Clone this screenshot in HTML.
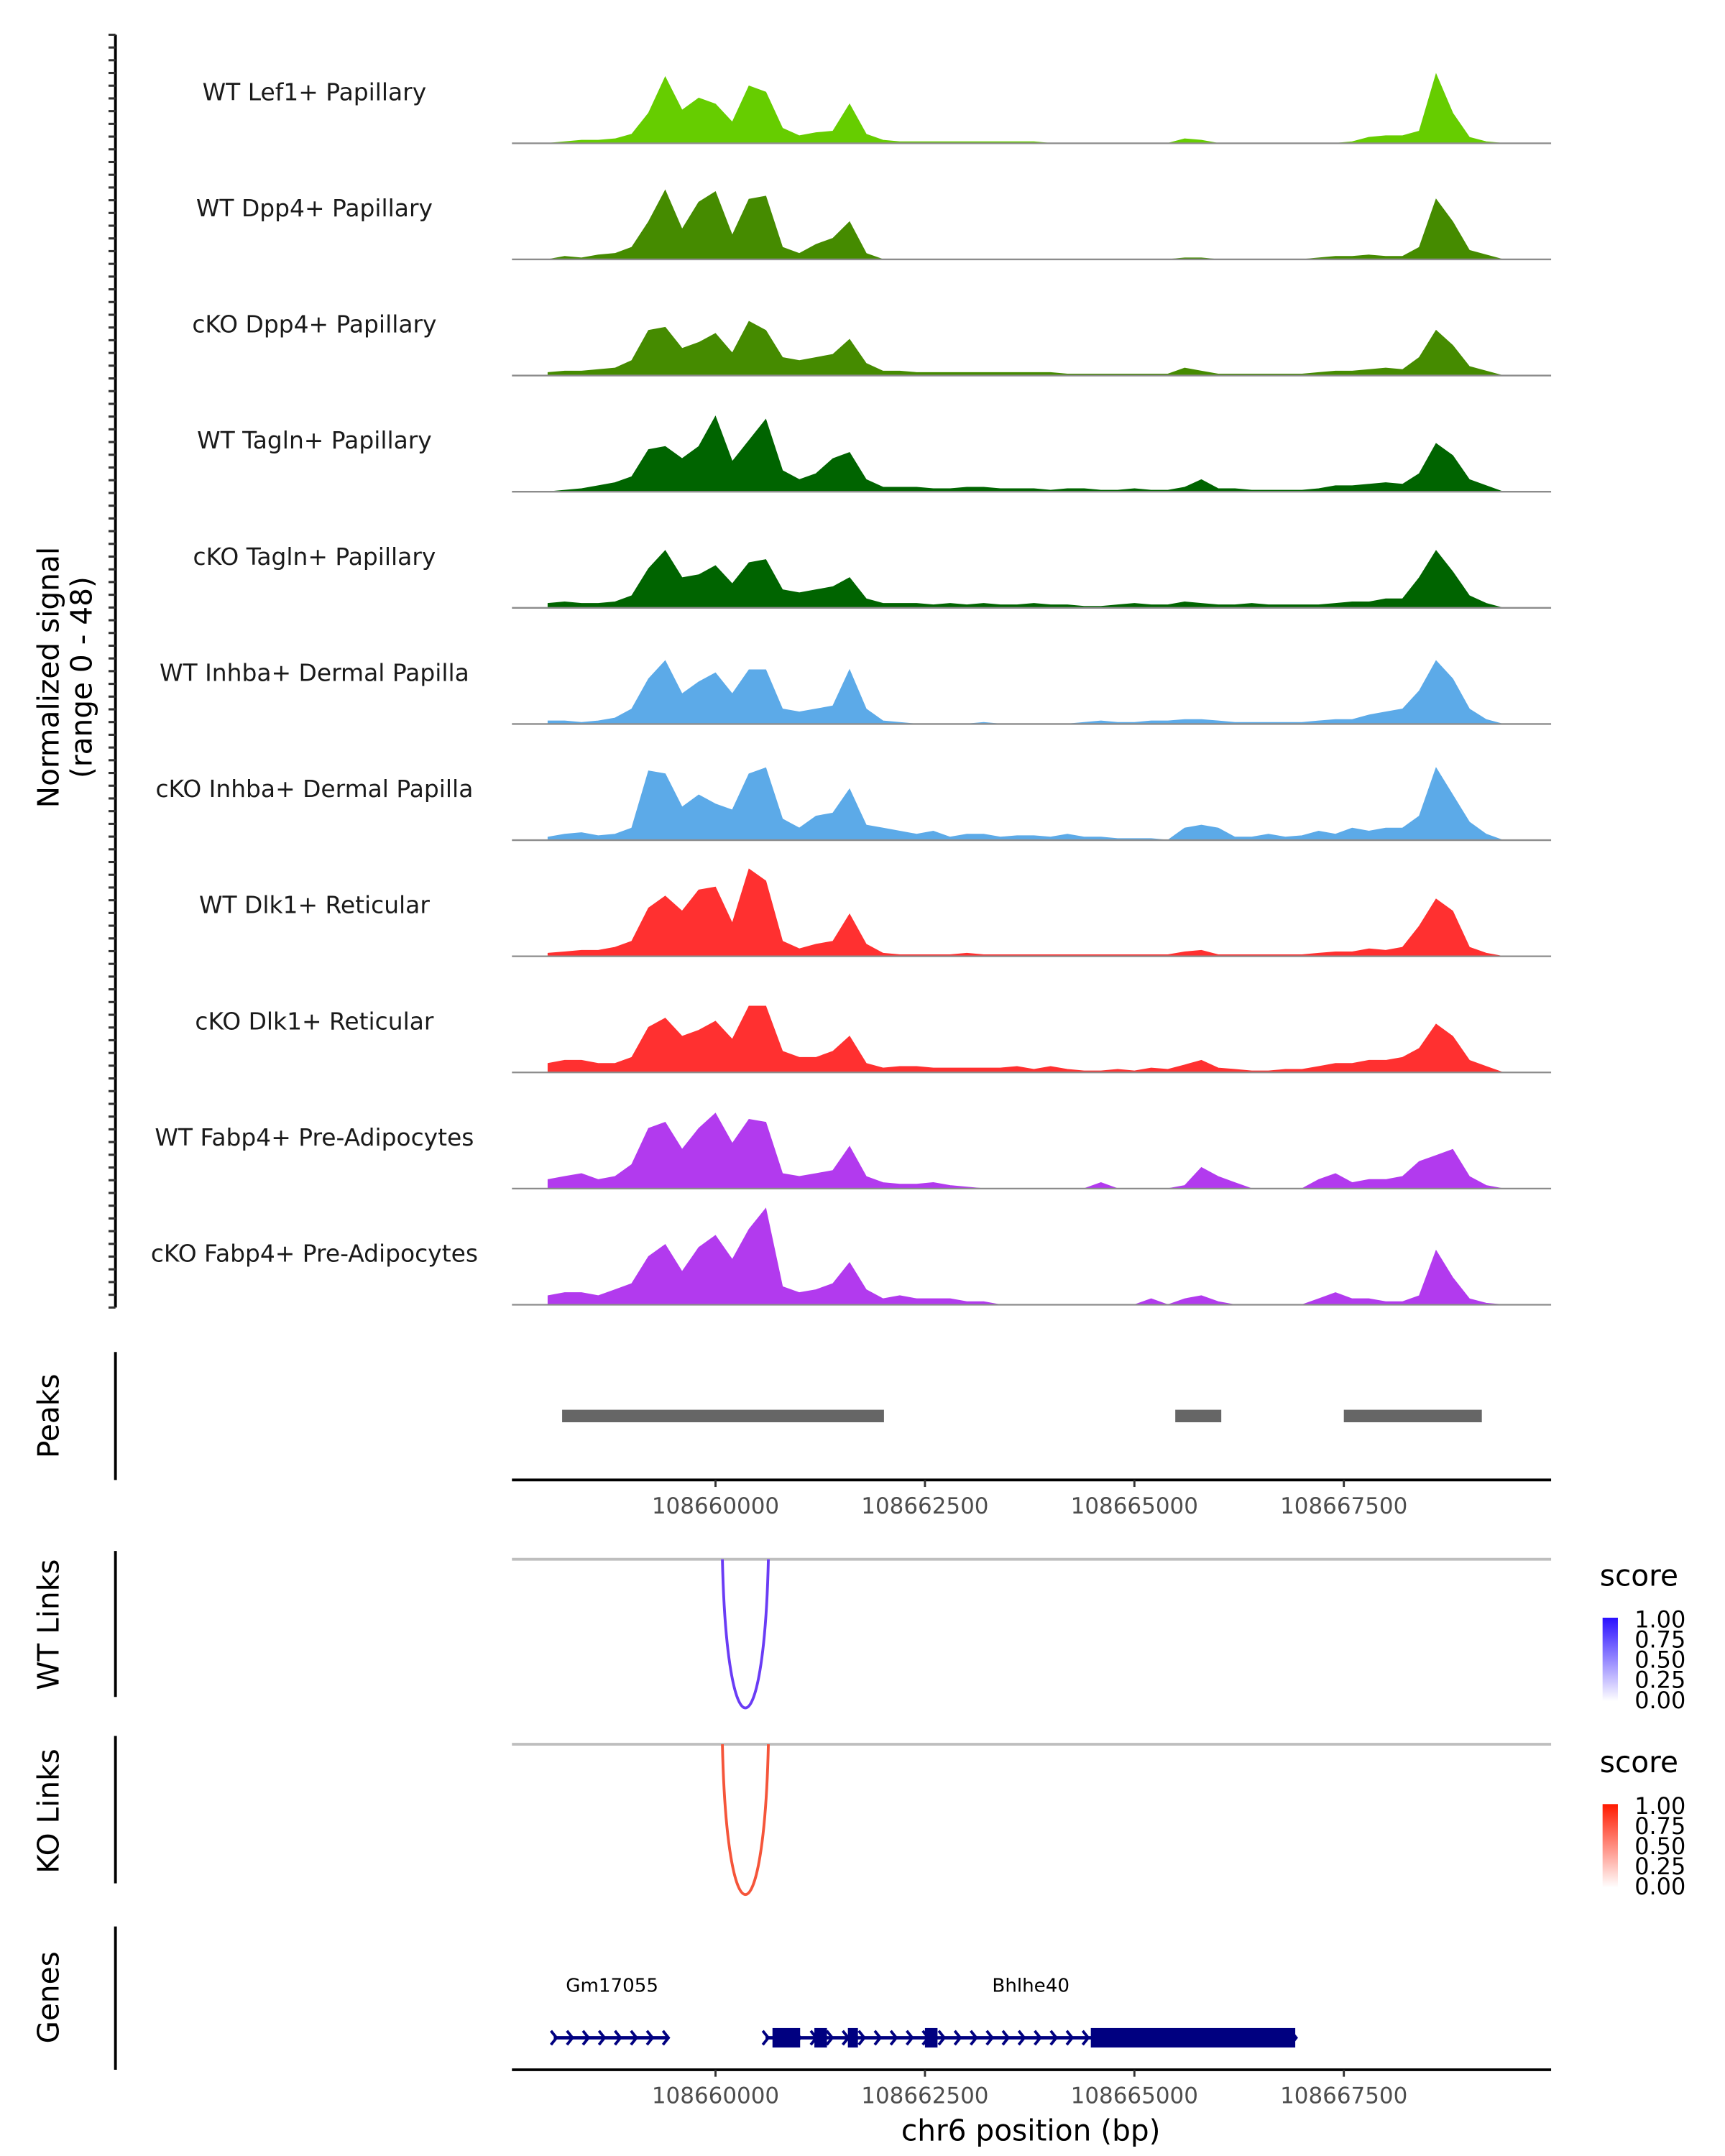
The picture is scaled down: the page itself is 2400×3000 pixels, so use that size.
<!DOCTYPE html>
<html><head><meta charset="utf-8"><style>
html,body{margin:0;padding:0;background:#fff;}
svg{display:block;font-family:"DejaVu Sans","Liberation Sans",sans-serif;}
</style></head><body>
<svg id="chart" xmlns="http://www.w3.org/2000/svg" width="2400" height="3000" viewBox="0 0 1240 1550">
<defs>
<linearGradient id="gWT" x1="0" y1="1" x2="0" y2="0"><stop offset="0" stop-color="#ffffff"/><stop offset="1" stop-color="#2a10ff"/></linearGradient>
<linearGradient id="gKO" x1="0" y1="1" x2="0" y2="0"><stop offset="0" stop-color="#ffffff"/><stop offset="1" stop-color="#ff1a00"/></linearGradient>
</defs>
<g id="root"></g>
</svg>
<script>
// ---- data ----
const regionStart = 108657570;
const regionEnd = 108669974;
const binStart = 108658000;
const binStep = 200;
const trackNames = ["WT Lef1+ Papillary","WT Dpp4+ Papillary","cKO Dpp4+ Papillary","WT Tagln+ Papillary","cKO Tagln+ Papillary","WT Inhba+ Dermal Papilla","cKO Inhba+ Dermal Papilla","WT Dlk1+ Reticular","cKO Dlk1+ Reticular","WT Fabp4+ Pre-Adipocytes","cKO Fabp4+ Pre-Adipocytes"];
const trackColors = ["#66cd00","#458b00","#458b00","#006400","#006400","#5caae8","#5caae8","#ff3030","#ff3030","#b23aee","#b23aee"];
const sigLef1 = [0,1,2,2,3,6,20,44,22,30, 26,14,38,34,10,5,7,8,26,6, 2,1,1,1,1,1,1,1,1,1, 0,0,0,0,0,0,0,0,3,2, 0,0,0,0,0,0,0,0,1,4, 5,5,8,46,20,4,1,0];
const sigWTDpp4 = [0,2,1,3,4,8,25,46,20,38, 45,16,40,42,8,4,10,14,25,4, 0,0,0,0,0,0,0,0,0,0, 0,0,0,0,0,0,0,0,1,1, 0,0,0,0,0,0,1,2,2,3, 2,2,8,40,25,6,3,0];
const sigKODpp4 = [2,3,3,4,5,10,30,32,18,22, 28,15,36,30,12,10,12,14,24,8, 3,3,2,2,2,2,2,2,2,2, 2,1,1,1,1,1,1,1,5,3, 1,1,1,1,1,1,2,3,3,4, 5,4,12,30,20,6,3,0];
const sigWTTagln = [0,1,2,4,6,10,28,30,22,30, 50,20,34,48,14,8,12,22,26,8, 3,3,3,2,2,3,3,2,2,2, 1,2,2,1,1,2,1,1,3,8, 2,2,1,1,1,1,2,4,4,5, 6,5,12,32,24,8,4,0];
const sigKOTagln = [3,4,3,3,4,8,26,38,20,22, 28,16,30,32,12,10,12,14,20,6, 3,3,3,2,3,2,3,2,2,3, 2,2,1,1,2,3,2,2,4,3, 2,2,3,2,2,2,2,3,4,4, 6,6,20,38,24,8,3,0];
const sigWTInhba = [2,2,1,2,4,10,30,42,20,28, 34,20,36,36,10,8,10,12,36,10, 2,1,0,0,0,0,1,0,0,0, 0,0,1,2,1,1,2,2,3,3, 2,1,1,1,1,1,2,3,3,6, 8,10,22,42,30,10,3,0];
const sigKOInhba = [2,4,5,3,4,8,46,44,22,30, 24,20,44,48,14,8,16,18,34,10, 8,6,4,6,2,4,4,2,3,3, 2,4,2,2,1,1,1,0,8,10, 8,2,2,4,2,3,6,4,8,6, 8,8,16,48,30,12,4,0];
const sigWTDlk1 = [2,3,4,4,6,10,32,40,30,44, 46,22,58,50,10,5,8,10,28,8, 2,1,1,1,1,2,1,1,1,1, 1,1,1,1,1,1,1,1,3,4, 1,1,1,1,1,1,2,3,3,5, 4,6,20,38,30,6,2,0];
const sigKODlk1 = [6,8,8,6,6,10,30,36,24,28, 34,22,44,44,14,10,10,14,24,6, 3,4,4,3,3,3,3,3,4,2, 4,2,1,1,2,1,3,2,5,8, 3,2,1,1,2,2,4,6,6,8, 8,10,16,32,24,8,4,0];
const sigWTFabp4 = [6,8,10,6,8,16,40,44,26,40, 50,30,46,44,10,8,10,12,28,8, 4,3,3,4,2,1,0,0,0,0, 0,0,0,4,0,0,0,0,2,14, 8,4,0,0,0,0,6,10,4,6, 6,8,18,22,26,8,2,0];
const sigKOFabp4 = [6,8,8,6,10,14,32,40,22,38, 46,30,50,64,12,8,10,14,28,10, 4,6,4,4,4,2,2,0,0,0, 0,0,0,0,0,0,4,0,4,6, 2,0,0,0,0,0,4,8,4,4, 2,2,6,36,18,4,1,0];
const signals = [sigLef1,sigWTDpp4,sigKODpp4,sigWTTagln,sigKOTagln,sigWTInhba,sigKOInhba,sigWTDlk1,sigKODlk1,sigWTFabp4,sigKOFabp4];
const peakStarts = [108658169,108665488,108667500];
const peakEnds = [108662011,108666037,108669147];
const xTicks = [108660000,108662500,108665000,108667500];
const wtLinkStart = [108660082]; const wtLinkEnd = [108660631]; const wtLinkScore = [0.8];
const koLinkStart = [108660082]; const koLinkEnd = [108660631]; const koLinkScore = [0.8];
const legendTicks = ["1.00","0.75","0.50","0.25","0.00"];
const geneNames = ["Gm17055","Bhlhe40"];
const geneStarts = [108658069,108660597];
const geneEnds = [108659433,108666935];
const exonStarts = [108660680,108661180,108661580,108662500,108664480];
const exonEnds = [108661010,108661330,108661700,108662650,108666920];

// ---- scales ----
const X0 = 368, X1 = 1115;
function xs(g){ return X0 + (g - regionStart) / (regionEnd - regionStart) * (X1 - X0); }
const trackTop = 25, trackStep = 83.5, yMax = 48, trackH = 52;
function ys(v, base){ return base - v / yMax * trackH; }

const NS = "http://www.w3.org/2000/svg";
const root = document.getElementById("root");
function mk(tag, attrs, parent){ const e = document.createElementNS(NS, tag); for (const k in attrs) e.setAttribute(k, attrs[k]); (parent||root).appendChild(e); return e; }
function txt(s, attrs, parent){ const e = mk("text", attrs, parent); e.textContent = s; return e; }

// left axis for coverage
let el = mk("line",{x1:83,y1:25,x2:83,y2:940,stroke:"#000","stroke-width":2});


for (let k=0; k<=100; k++){
  const y = 25 + k*9.15; if (y>941) break;
  const t = mk("line",{x1:78,y1:y,x2:83,y2:y,stroke:"#333","stroke-width":1.6});
  
  
}
el = txt("Normalized signal",{x:0,y:0,"font-size":21,"text-anchor":"middle",transform:"translate(42,487) rotate(-90)"});


el = txt("(range 0 - 48)",{x:0,y:0,"font-size":21,"text-anchor":"middle",transform:"translate(66,487) rotate(-90)"});



// tracks
for (let t=0; t<signals.length; t++){
  const base = 103 + t*trackStep;
  const arr = signals[t];
  let d = "M" + xs(binStart).toFixed(1) + "," + base;
  for (let i=0;i<arr.length;i++){ d += " L" + xs(binStart + i*binStep).toFixed(1) + "," + ys(arr[i], base).toFixed(1); }
  d += " L" + xs(binStart + (arr.length-1)*binStep).toFixed(1) + "," + base + " Z";
  const p = mk("path",{d:d,fill:trackColors[t],stroke:trackColors[t],"stroke-width":0.5,"stroke-linejoin":"miter"});
  
  
  const bl = mk("line",{x1:X0,y1:base,x2:X1,y2:base,stroke:"#8c8c8c","stroke-width":1.2});
  
  
  const lb = txt(trackNames[t],{x:226,y:base-31,"font-size":17,"text-anchor":"middle",fill:"#1a1a1a"});
  
  
}

// panel axis helper
function panel(name, y1, y2, title, ty){
  const l = mk("line",{x1:83,y1:y1,x2:83,y2:y2,stroke:"#000","stroke-width":2});
  
  
  const tt = txt(title,{x:0,y:0,"font-size":21,"text-anchor":"middle",transform:"translate(42,"+ty+") rotate(-90)"});
  
  
}
function xAxis(y, withTitle){
  const a = mk("line",{x1:X0,y1:y,x2:X1,y2:y,stroke:"#000","stroke-width":2});
  
  
  for (let i=0;i<xTicks.length;i++){
    const x = xs(xTicks[i]);
    const tk = mk("line",{x1:x,y1:y,x2:x,y2:y+5,stroke:"#333","stroke-width":1.5});
    
    
    const lab = txt(String(xTicks[i]),{x:x,y:y+24,"font-size":16,"text-anchor":"middle",fill:"#4d4d4d"});
    
    
  }
  if (withTitle){
    const tl = txt("chr6 position (bp)",{x:741,y:y+51,"font-size":21,"text-anchor":"middle"});
    
    
  }
}

// peaks
panel("peaks", 972, 1064, "Peaks", 1018);
for (let i=0;i<peakStarts.length;i++){
  const r = mk("rect",{x:xs(peakStarts[i]),y:1013.5,width:xs(peakEnds[i])-xs(peakStarts[i]),height:9,fill:"#666666"});
  
  
}
xAxis(1064,false);

// links
function links(name, top, bottom, starts, ends, scores, color, grad, title, ty, legY){
  panel(name, top-6, bottom+4, title, ty);
  const g = mk("line",{x1:X0,y1:top,x2:X1,y2:top,stroke:"#bebebe","stroke-width":2});
  
  
  for (let i=0;i<starts.length;i++){
    const a = xs(starts[i]), b = xs(ends[i]), depth = (bottom-top)*2*scores[i]/0.8;
    const p = mk("path",{d:"M"+a+","+top+" C"+(a+ (b-a)*0.1)+","+(top+depth*0.75)+" "+(b-(b-a)*0.1)+","+(top+depth*0.75)+" "+b+","+top,fill:"none",stroke:color,"stroke-width":2});
    
    
  }
  const st = txt("score",{x:1150,y:legY,"font-size":21});
  
  
  const cb = mk("rect",{x:1152,y:legY+23,width:11,height:60,fill:"url(#"+grad+")"});
  
  
  for (let i=0;i<legendTicks.length;i++){
    const yy = legY + 23 + i*14.5;
    const lt = txt(legendTicks[i],{x:1175,y:yy+7,"font-size":16.5});
    
    
  }
}
links("wt-links", 1121, 1216, wtLinkStart, wtLinkEnd, wtLinkScore, "#6a3cf5", "gWT", "WT Links", 1168, 1140);
links("ko-links", 1254, 1350, koLinkStart, koLinkEnd, koLinkScore, "#f5553a", "gKO", "KO Links", 1302, 1274);

// genes
panel("genes", 1385, 1488, "Genes", 1436);
const gy = 1465;
for (let i=0;i<geneNames.length;i++){
  const a = xs(geneStarts[i]), b = xs(geneEnds[i]);
  const ln = mk("line",{x1:a,y1:gy,x2:b,y2:gy,stroke:"#000080","stroke-width":2.5});
  
  
  for (let x=a; x<=b; x+=11.5){
    const c = mk("path",{d:"M"+(x-2)+","+(gy-5)+" L"+(x+2)+","+gy+" L"+(x-2)+","+(gy+5),fill:"none",stroke:"#000080","stroke-width":2});
    
    
  }
  const nm = txt(geneNames[i],{x:i===0?440:741,y:1432,"font-size":13.5,"text-anchor":"middle"});
  
  
}
for (let i=0;i<exonStarts.length;i++){
  const r = mk("rect",{x:xs(exonStarts[i]),y:gy-7,width:xs(exonEnds[i])-xs(exonStarts[i]),height:14,fill:"#000080"});
  
  
}
xAxis(1488,true);
</script>
</body></html>
